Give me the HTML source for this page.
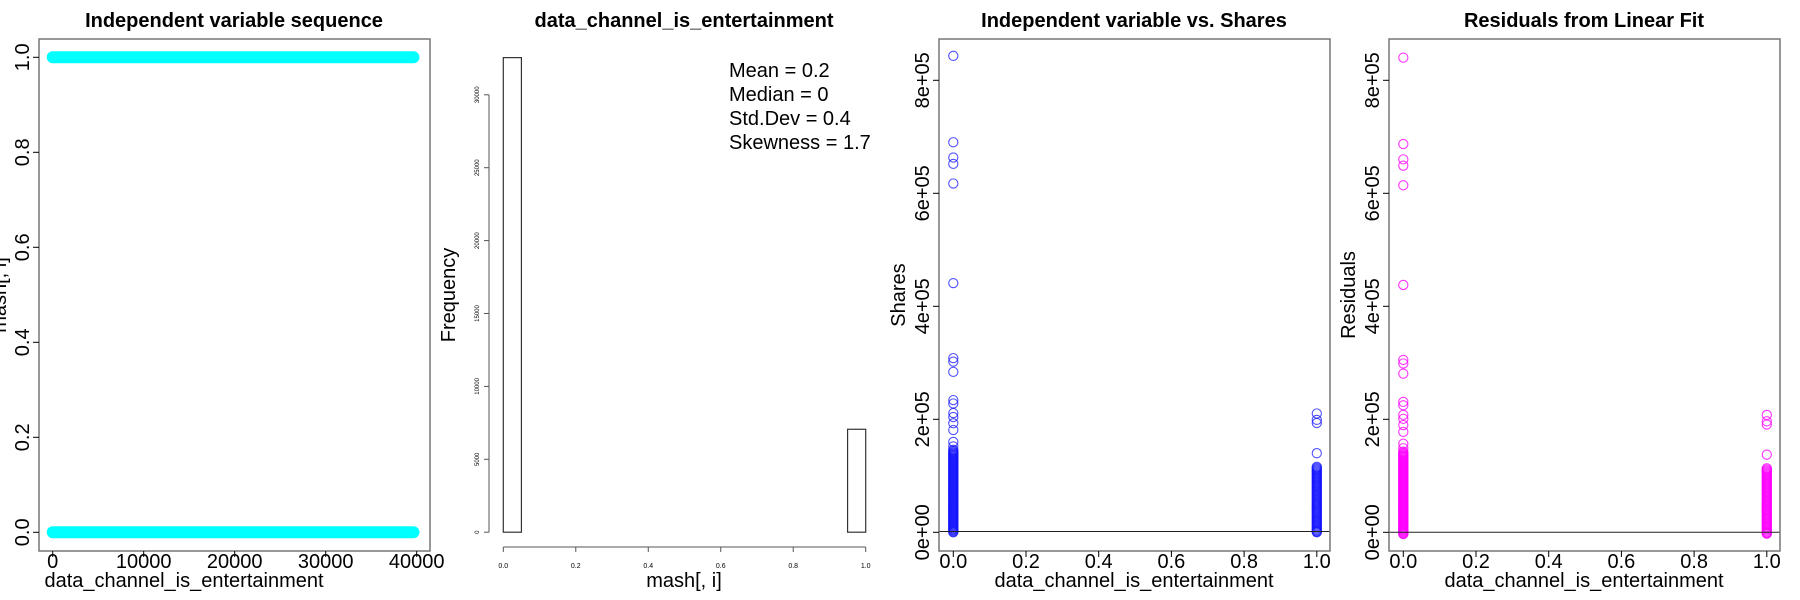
<!DOCTYPE html>
<html><head><meta charset="utf-8"><style>
html,body{margin:0;padding:0;background:#fff}
svg{display:block;font-family:"Liberation Sans",sans-serif}
</style></head><body>
<svg id="chart" width="1800" height="600" viewBox="0 0 1800 600" xmlns="http://www.w3.org/2000/svg"></svg>
<script>
// ---- data ----
const seqLevels = [0, 1];
const seqCount = 39644;
const seqTicks = [0, 10000, 20000, 30000, 40000];
const seqYTicks = [0, 0.2, 0.4, 0.6, 0.8, 1.0];
const histBreaks = [0, 0.05, 0.95, 1.0];
const histCounts = [32550, 0, 7060];
const histYTicks = [0, 5000, 10000, 15000, 20000, 25000, 30000];
const histXTicks = [0, 0.2, 0.4, 0.6, 0.8, 1.0];
const statLines = ["Mean = 0.2", "Median = 0", "Std.Dev = 0.4", "Skewness = 1.7"];
const shares0 = [843300, 690400, 663300, 652100, 617400, 441000, 308300, 302000, 284000, 234000, 228000, 211000, 204000, 193000, 181000, 160000, 152000, 146000, 144000, 142000, 140500, 139000, 137500, 136000, 134500, 133000, 131500, 130000, 128500, 127000, 125500, 124000, 122500, 121000, 119500, 118000, 116500, 115000, 113500, 112000, 110500, 109000, 107500, 106000, 104500, 103000, 101500, 100000, 98500, 97000, 95500, 94000, 92500, 91000, 89500, 88000, 86500, 85000, 83500, 82000, 80500, 79000, 77500, 76000, 74500, 73000, 71500, 70000, 68500, 67000, 65500, 64000, 62500, 61000, 59500, 58000, 56500, 55000, 53500, 52000, 50500, 49000, 47500, 46000, 44500, 43000, 41500, 40000, 38500, 37000, 35500, 34000, 32500, 31000, 29500, 28000, 26500, 25000, 23500, 22000, 20500, 19000, 17500, 16000, 14500, 13000, 11500, 10000, 8500, 7000, 5500, 4000, 2500, 1000, 0];
const shares1 = [210300, 199000, 193400, 140000, 116000, 114000, 112000, 110000, 108000, 106000, 104000, 102000, 100000, 98000, 96000, 94000, 92000, 90000, 88000, 86000, 84000, 82000, 80000, 78000, 76000, 74000, 72000, 70000, 68000, 66000, 64000, 62000, 60000, 58000, 56000, 54000, 52000, 50000, 48000, 46000, 44000, 42000, 40000, 38000, 36000, 34000, 32000, 30000, 28000, 26000, 24000, 22000, 20000, 18000, 16000, 14000, 12000, 10000, 8000, 6000, 4000, 2000, 1000, 0];
const fitted0 = 3200, fitted1 = 2600;
const scatterXTicks = [0, 0.2, 0.4, 0.6, 0.8, 1.0];
const scatterYTicks = [0, 200000, 400000, 600000, 800000];
const scatterYLabels = ["0e+00", "2e+05", "4e+05", "6e+05", "8e+05"];
const titles = ["Independent variable sequence", "data_channel_is_entertainment", "Independent variable vs. Shares", "Residuals from Linear Fit"];

// ---- helpers ----
const svg = document.getElementById('chart');
const NS = 'http://www.w3.org/2000/svg';
function mk(tag, attrs, parent, text) {
  const e = document.createElementNS(NS, tag);
  for (const k in attrs) e.setAttribute(k, attrs[k]);
  if (text !== undefined) e.textContent = text;
  (parent || svg).appendChild(e);
  return e;
}
const TOP = 39, BOT = 551;
function lin(d0, d1, r0, r1) { return v => r0 + (v - d0) / (d1 - d0) * (r1 - r0); }

function title(i, ox) {
  const t = mk('text', {x: ox + 234, y: 27, 'text-anchor': 'middle', 'font-size': 20, 'font-weight': 'bold'}, svg, titles[i]);
  
  
}
function ylabel(ox, txt, name) {
  const t = mk('text', {x: 0, y: 0, 'text-anchor': 'middle', 'font-size': 20, transform: `translate(${ox + 12},295) rotate(-90)`}, svg, txt);
  
  
}
function xlabel(ox, txt, name) {
  const t = mk('text', {x: ox + 234, y: 587, 'text-anchor': 'middle', 'font-size': 20}, svg, txt);
  
  
}
function box(ox, name) {
  const r = mk('rect', {x: ox + 39, y: TOP, width: 391, height: BOT - TOP, fill: 'none', stroke: '#777', 'stroke-width': 1.5});
  
  
}

// ---- panel 1 ----
(function () {
  const ox = 0;
  title(0, ox);
  const xs = lin(0, 40000, 52.7, 416.7);
  const ys = lin(0, 1, 532.3, 57.3);
  ylabel(ox - 6, 'mash[, i]', 'y-axis-title-1');
  const g = mk('g', {});
  
  
  seqLevels.forEach(v => {
    const l = mk('line', {x1: xs(1), y1: ys(v), x2: xs(seqCount), y2: ys(v), stroke: '#00ffff', 'stroke-width': 12, 'stroke-linecap': 'round'}, g);
    
    
  });
  box(ox, 'plot-box-1');
  seqTicks.forEach(v => {
    mk('line', {x1: xs(v), y1: BOT, x2: xs(v), y2: BOT + 6, stroke: '#000'});
    const t = mk('text', {x: xs(v), y: 568, 'text-anchor': 'middle', 'font-size': 20}, svg, String(v));
    
    
  });
  seqYTicks.forEach(v => {
    mk('line', {x1: 33, y1: ys(v), x2: 39, y2: ys(v), stroke: '#000'});
    const t = mk('text', {x: 0, y: 0, 'text-anchor': 'middle', 'font-size': 20, transform: `translate(29,${ys(v)}) rotate(-90)`}, svg, v.toFixed(1));
    
    
  });
  xlabel(ox - 50, 'data_channel_is_entertainment', 'x-axis-title-1');
})();

// ---- panel 2 histogram ----
(function () {
  const ox = 450;
  title(1, ox);
  const xs = lin(0, 1, 503.3, 865.7);
  const ys = lin(0, 5000, 532.2, 459.3);
  const g = mk('g', {});
  
  
  histCounts.forEach((c, i) => {
    const x0 = xs(histBreaks[i]), x1 = xs(histBreaks[i + 1]);
    const r = mk('rect', {x: x0, y: ys(c), width: x1 - x0, height: ys(0) - ys(c), fill: '#fff', stroke: '#333', 'stroke-width': 1.2}, g);
    
    
  });
  mk('line', {x1: 489, y1: ys(0), x2: 489, y2: ys(30000), stroke: '#555'});
  histYTicks.forEach(v => {
    mk('line', {x1: 484, y1: ys(v), x2: 489, y2: ys(v), stroke: '#555'});
    const t = mk('text', {x: 0, y: 0, 'text-anchor': 'middle', 'font-size': 6, transform: `translate(479,${ys(v)}) rotate(-90)`}, svg, String(v));
    
    
  });
  mk('line', {x1: xs(0), y1: 547, x2: xs(1), y2: 547, stroke: '#555'});
  histXTicks.forEach(v => {
    mk('line', {x1: xs(v), y1: 547, x2: xs(v), y2: 552, stroke: '#555'});
    const t = mk('text', {x: xs(v), y: 568, 'text-anchor': 'middle', 'font-size': 7}, svg, v.toFixed(1));
    
    
  });
  statLines.forEach((s, i) => {
    const t = mk('text', {x: 729, y: 77 + i * 24, 'font-size': 20}, svg, s);
    
    
  });
  ylabel(ox - 7, 'Frequency', 'y-axis-title-2');
  xlabel(ox + 0, 'mash[, i]', 'x-axis-title-2');
})();

// ---- panels 3 & 4 scatter ----
function scatter(ox, idx, stroke, resid, lineVal, yname) {
  title(idx, ox);
  const xs = lin(0, 1, ox + 53.3, ox + 416.8);
  const ys = lin(0, 200000, 532.3, 419.3);
  ylabel(ox - 7, resid ? 'Residuals' : 'Shares', yname);
  const g = mk('g', {});
  
  
  shares0.forEach(v => {
    const c = mk('circle', {cx: xs(0), cy: ys(v - (resid ? fitted0 : 0)), r: 4.6, fill: 'none', stroke: stroke, 'stroke-width': 1.1}, g);
    
    
  });
  shares1.forEach(v => {
    const c = mk('circle', {cx: xs(1), cy: ys(v - (resid ? fitted1 : 0)), r: 4.6, fill: 'none', stroke: stroke, 'stroke-width': 1.1}, g);
    
    
  });
  const hl = mk('line', {x1: ox + 39, x2: ox + 430, y1: ys(lineVal), y2: ys(lineVal), stroke: '#222', 'stroke-width': 1});
  
  
  box(ox, 'plot-box-' + (idx + 1));
  scatterXTicks.forEach(v => {
    mk('line', {x1: xs(v), y1: BOT, x2: xs(v), y2: BOT + 6, stroke: '#000'});
    const t = mk('text', {x: xs(v), y: 568, 'text-anchor': 'middle', 'font-size': 20}, svg, v.toFixed(1));
    
    
  });
  scatterYTicks.forEach((v, i) => {
    mk('line', {x1: ox + 33, y1: ys(v), x2: ox + 39, y2: ys(v), stroke: '#000'});
    const t = mk('text', {x: 0, y: 0, 'text-anchor': 'middle', 'font-size': 20, transform: `translate(${ox + 29},${ys(v)}) rotate(-90)`}, svg, scatterYLabels[i]);
    
    
  });
  xlabel(ox - 0, 'data_channel_is_entertainment', 'x-axis-title-' + (idx + 1));
}
scatter(900, 2, 'rgba(20,20,255,0.75)', false, 1500, 'y-axis-title-3');
scatter(1350, 3, 'rgba(255,0,255,0.8)', true, 0, 'y-axis-title-4');
</script>
</body></html>
